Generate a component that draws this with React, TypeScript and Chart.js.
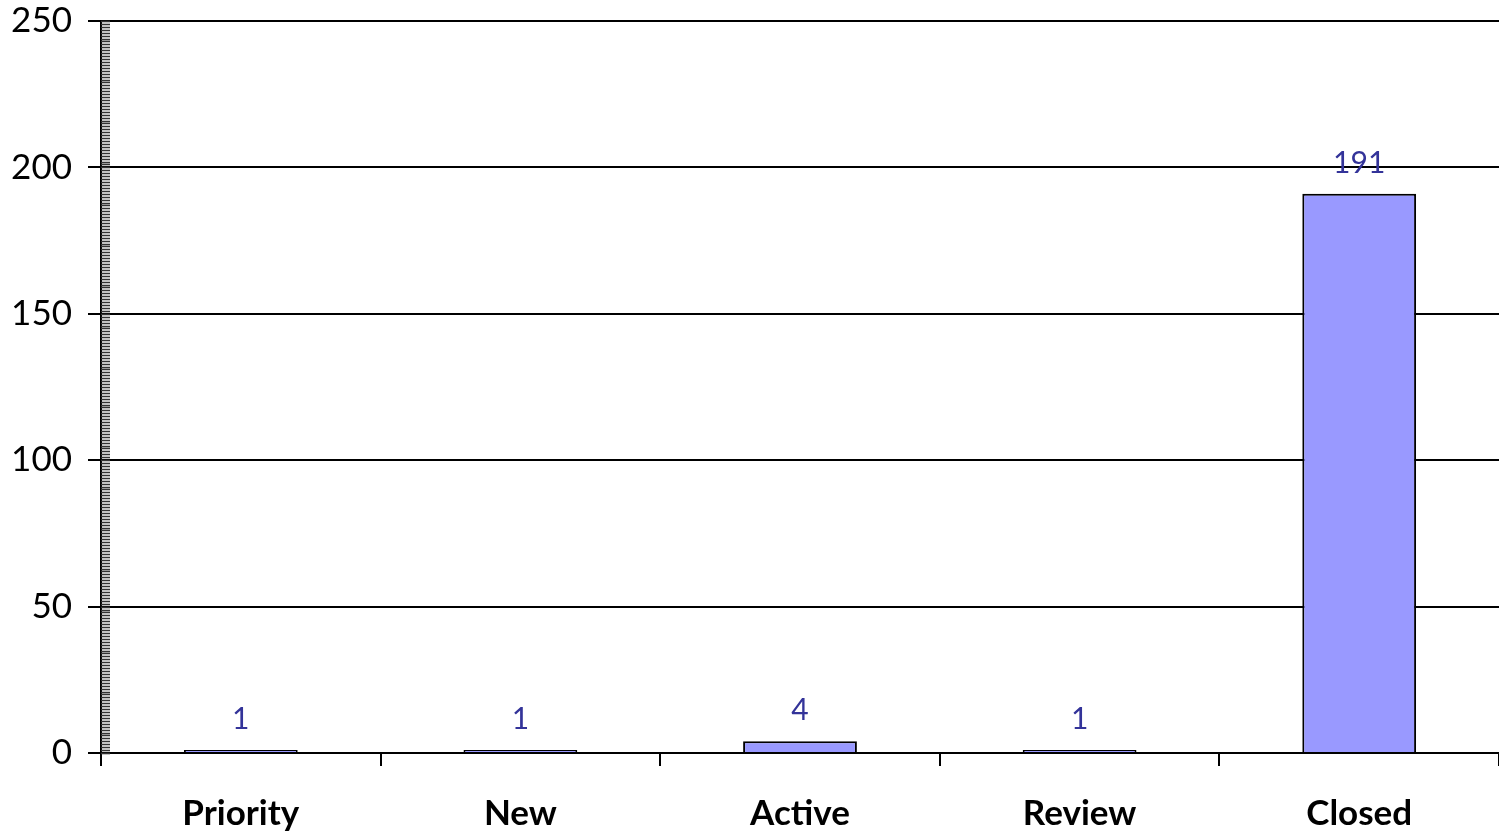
import React, { useEffect, useRef } from "react";
import { Chart, registerables } from "chart.js";

Chart.register(...registerables);

const categories = ["Priority", "New", "Active", "Review", "Closed"];
const counts = [1, 1, 4, 1, 191];
const yMax = 250;
const yStep = 50;
const minorStep = 1;

const FONT = "Lato, 'Open Sans', sans-serif";

const minorTicks = {
  id: "minorTicks",
  afterDraw(chart: any) {
    const y = chart.scales.y;
    const ctx = chart.ctx;
    ctx.save();
    ctx.strokeStyle = "#333333";
    ctx.lineWidth = 1.6;
    for (let v = 0; v <= yMax; v += minorStep) {
      const py = Math.round(y.getPixelForValue(v)) + 0.5;
      ctx.beginPath();
      ctx.moveTo(y.right, py);
      ctx.lineTo(y.right + 9, py);
      ctx.stroke();
    }
    ctx.restore();
  },
};

const valueLabels = {
  id: "valueLabels",
  afterDatasetsDraw(chart: any) {
    const ctx = chart.ctx;
    const meta = chart.getDatasetMeta(0);
    ctx.save();
    ctx.fillStyle = "#333399";
    ctx.font = `30px ${FONT}`;
    ctx.textAlign = "center";
    ctx.textBaseline = "alphabetic";
    meta.data.forEach((bar: any, i: number) => {
      ctx.fillText(String(counts[i]), bar.x, bar.y - 21);
    });
    ctx.restore();
  },
};

export default function App() {
  const ref = useRef<HTMLCanvasElement>(null);
  useEffect(() => {
    document.body.style.margin = "0";
    document.body.style.overflow = "hidden";
    const chart = new Chart(ref.current!, {
      type: "bar",
      data: {
        labels: categories,
        datasets: [
          {
            data: counts,
            backgroundColor: "#9999FF",
            borderColor: "#000000",
            borderWidth: 2,
            categoryPercentage: 1,
            barPercentage: 0.407,
          },
        ],
      },
      options: {
        animation: false,
        responsive: false,
        devicePixelRatio: 1,
        layout: { padding: { top: 21, right: 0, left: 0, bottom: 0 } },
        plugins: { legend: { display: false }, tooltip: { enabled: false } },
        scales: {
          x: {
            border: { color: "#000", width: 2 },
            grid: {
              offset: true,
              drawOnChartArea: false,
              drawTicks: true,
              tickLength: 13,
              color: "#000",
              lineWidth: 2,
            },
            ticks: {
              color: "#000",
              font: { family: FONT, size: 35, weight: "bold" },
              padding: 27,
            },
            afterFit(scale: any) {
              scale.height = 85;
              scale.paddingLeft = 0;
              scale.paddingRight = 0;
            },
          },
          y: {
            min: 0,
            max: yMax,
            border: { color: "#000", width: 2 },
            grid: {
              color: "#000",
              lineWidth: 2,
              tickLength: 13,
            },
            ticks: {
              stepSize: yStep,
              color: "#000",
              font: { family: FONT, size: 35 },
              padding: 16,
            },
            afterFit(scale: any) {
              scale.width = 101;
              scale.paddingTop = 0;
              scale.paddingBottom = 0;
            },
          },
        },
      },
      plugins: [minorTicks, valueLabels],
    });
    return () => chart.destroy();
  }, []);
  return (
    <div style={{ width: 1499, height: 838 }}>
      <canvas ref={ref} width={1499} height={838} style={{ display: "block" }} />
    </div>
  );
}
